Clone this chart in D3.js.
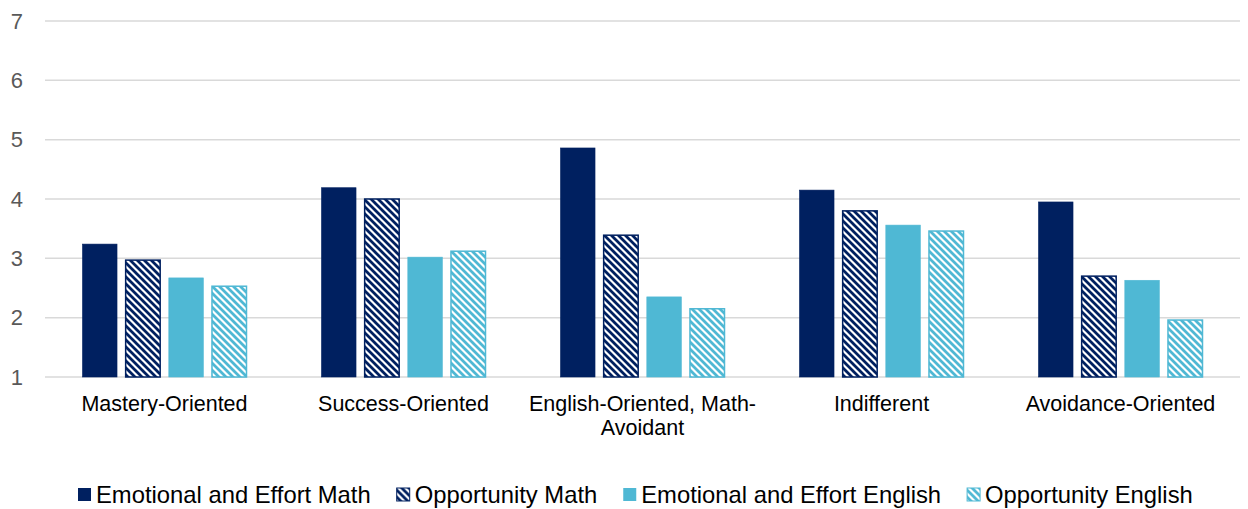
<!DOCTYPE html>
<html><head><meta charset="utf-8">
<script src="https://cdn.jsdelivr.net/npm/d3@7"></script>
<style>body{margin:0;background:#fff;}svg{display:block;font-family:"Liberation Sans",Arial,sans-serif;}</style>
</head><body>
<svg id="chart" width="1248" height="509"></svg>
<script>
const categories = [["Mastery-Oriented"],["Success-Oriented"],["English-Oriented, Math-","Avoidant"],["Indifferent"],["Avoidance-Oriented"]];
const seriesNames = ["Emotional and Effort Math","Opportunity Math","Emotional and Effort English","Opportunity English"];
const emotionalMath = [3.24, 4.19, 4.86, 4.15, 3.95];
const opportunityMath = [2.97, 4.00, 3.39, 3.80, 2.70];
const emotionalEnglish = [2.67, 3.02, 2.35, 3.56, 2.63];
const opportunityEnglish = [2.53, 3.12, 2.15, 3.46, 1.96];
const yTicks = [1,2,3,4,5,6,7];

const seriesValues = [emotionalMath, opportunityMath, emotionalEnglish, opportunityEnglish];
const colors = ["#002060","#002060","#4FB8D4","#4FB8D4"];
const hatched = [false,true,false,true];

const svg = d3.select("#chart");
const defs = svg.append("defs");
[["hatchNavy","#002060"],["hatchBlue","#4FB8D4"]].forEach(([id,c])=>{
  const p = defs.append("pattern").attr("id",id).attr("patternUnits","userSpaceOnUse")
    .attr("width",7).attr("height",7);
  p.append("rect").attr("width",7).attr("height",7).attr("fill","#fff");
  p.append("path").attr("d","M-1,-1 L8,8 M-8,-1 L1,8 M6,-1 L15,8").attr("stroke",c).attr("stroke-width",2.8);
});
const fills = ["#002060","url(#hatchNavy)","#4FB8D4","url(#hatchBlue)"];

const catIdx = categories.map((d,i)=>i);
const x0 = d3.scaleBand().domain(catIdx).range([45,1240]).paddingInner(0).paddingOuter(0);
const x1 = d3.scaleBand().domain(d3.range(seriesNames.length)).range([37.5, x0.bandwidth()-37.5]).paddingInner(0.2).paddingOuter(0);
const y = d3.scaleLinear().domain([1,7]).range([377,21]);

// gridlines
svg.append("g").selectAll("line").data(yTicks).join("line")
  .attr("x1",45).attr("x2",1240).attr("y1",d=>y(d)).attr("y2",d=>y(d))
  .attr("stroke","#d9d9d9").attr("stroke-width",1.5);

// y labels
const yAxis = d3.axisLeft(y).tickValues(yTicks).tickSize(0).tickPadding(0).tickFormat(d3.format("d"));
const ya = svg.append("g").attr("transform","translate(23,0)").call(yAxis);
ya.select(".domain").remove();
ya.selectAll("text").attr("font-size",22).attr("fill","#595959").attr("font-family","Liberation Sans, Arial, sans-serif");

// bars
const groups = svg.append("g").selectAll("g").data(catIdx).join("g")
  .attr("transform",d=>`translate(${x0(d)},0)`);
groups.selectAll("rect").data(ci=>seriesValues.map((vals,si)=>({si,v:vals[ci]}))).join("rect")
  .attr("x",d=>x1(d.si)).attr("width",x1.bandwidth())
  .attr("y",d=>y(d.v)).attr("height",d=>y(1)-y(d.v))
  .attr("fill",d=>fills[d.si])
  .attr("stroke",d=>colors[d.si]).attr("stroke-width",d=>hatched[d.si]?1.5:0.6);

// category labels
const cl = svg.append("g").selectAll("text").data(catIdx).join("text")
  .attr("x",d=>x0(d)+x0.bandwidth()/2).attr("y",411)
  .attr("text-anchor","middle").attr("font-size",21.5).attr("fill","#000");
cl.selectAll("tspan").data(d=>categories[d]).join("tspan")
  .attr("x",function(){return d3.select(this.parentNode).attr("x");})
  .attr("dy",(d,i)=>i===0?0:24).text(d=>d);

// legend
const leg = svg.append("g");
const items = leg.selectAll("g").data(seriesNames).join("g");
items.append("rect").attr("width",13).attr("height",13).attr("y",488)
  .attr("fill",(d,i)=>fills[i]).attr("stroke",(d,i)=>hatched[i]?colors[i]:"none").attr("stroke-width",1);
items.append("text").attr("x",18).attr("y",503).attr("font-size",23.8).attr("fill","#000").text(d=>d);
const widths = [];
items.each(function(){widths.push(this.getBBox().width);});
const gap = 26;
let cx = 78;
items.attr("transform",(d,i)=>{const t=`translate(${cx},0)`; cx+=widths[i]+gap; return t;});
</script>
</body></html>
